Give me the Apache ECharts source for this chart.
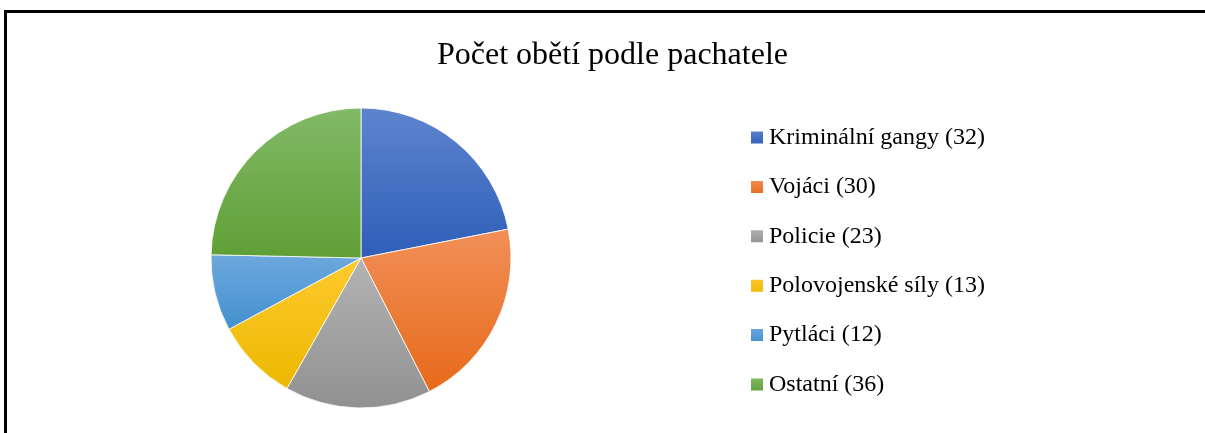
<!DOCTYPE html>
<html>
<head>
<meta charset="utf-8">
<script src="https://cdn.jsdelivr.net/npm/echarts@6/dist/echarts.min.js"></script>
<style>
html,body{margin:0;padding:0;background:#fff;}
#c{width:1205px;height:433px;}
</style>
</head>
<body>
<div id="c"></div>
<script>
const titleText = 'Počet obětí podle pachatele';
const categories = ['Kriminální gangy', 'Vojáci', 'Policie', 'Polovojenské síly', 'Pytláci', 'Ostatní'];
const values = [32, 30, 23, 13, 12, 36];
const colorTop = ['#5d84ce', '#f18f58', '#b3b3b3', '#ffca2e', '#6da8dd', '#82ba67'];
const colorBottom = ['#2e5eb8', '#e76a1a', '#919191', '#ecb800', '#4390cf', '#5f9f36'];

const chart = echarts.init(document.getElementById('c'), null, {renderer: 'canvas'});
const data = categories.map((n, i) => ({
  name: n,
  value: values[i],
  itemStyle: {
    color: new echarts.graphic.LinearGradient(0, 0, 0, 1, [
      {offset: 0, color: colorTop[i]},
      {offset: 1, color: colorBottom[i]}
    ])
  }
}));
const valueOf = {};
categories.forEach((n, i) => valueOf[n] = values[i]);

chart.setOption({
  animation: false,
  backgroundColor: '#ffffff',
  title: {
    text: titleText,
    left: 437,
    top: 40,
    padding: 0,
    textStyle: {
      fontFamily: 'Liberation Serif',
      fontSize: 32,
      fontWeight: 'normal',
      color: '#000'
    }
  },
  legend: {
    orient: 'vertical',
    left: 749,
    top: 125.5,
    padding: 0,
    itemWidth: 14,
    itemHeight: 14,
    itemGap: 25.4,
    icon: 'rect',
    selectedMode: false,
    formatter: n => n + ' (' + valueOf[n] + ')',
    textStyle: {
      fontFamily: 'Liberation Serif',
      fontSize: 24,
      lineHeight: 24,
      color: '#000'
    },
    data: categories
  },
  graphic: [{
    type: 'rect',
    shape: {x: 5.5, y: 11.5, width: 1400, height: 1000},
    style: {fill: 'none', stroke: '#000', lineWidth: 3},
    silent: true
  }],
  series: [{
    type: 'pie',
    center: [361, 258],
    radius: [0, 150],
    startAngle: 90,
    clockwise: true,
    label: {show: false},
    labelLine: {show: false},
    itemStyle: {borderColor: '#ffffff', borderWidth: 0.8},
    emphasis: {disabled: true},
    data: data
  }]
});
</script>
</body>
</html>
